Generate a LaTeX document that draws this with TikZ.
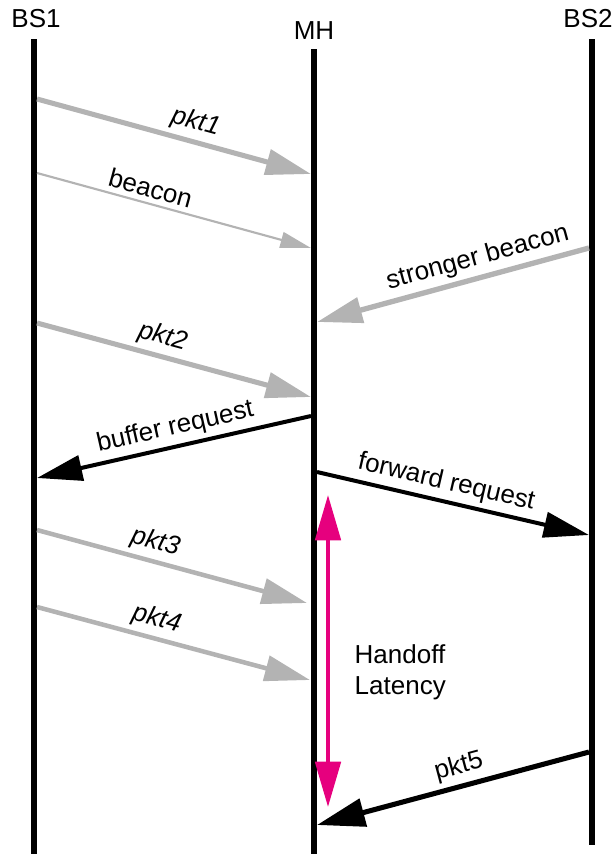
\documentclass[tikz,border=0pt]{standalone}
\usepackage{fontspec}
\setmainfont{Liberation Sans}
\usetikzlibrary{arrows.meta}
\definecolor{pktgray}{RGB}{179,179,179}
\definecolor{latency}{RGB}{230,0,126}

\begin{document}
\begin{tikzpicture}[x=0.75pt, y=-0.75pt, font=\fontsize{19.5}{23.5}\selectfont,
  life/.style = {line width=4.8pt},
  pkt/.style = {draw=pktgray, line width=3.8pt, -{Triangle[length=34pt, width=19pt]}},
  weak/.style = {draw=pktgray, line width=1.6pt, -{Triangle[length=23pt, width=12pt]}},
  ctrl/.style = {draw=black, line width=3pt, -{Triangle[length=34pt, width=19pt]}},
  lbl/.style = {sloped, above, inner sep=3.5pt, text=black}]
\useasboundingbox (0,0) rectangle (614,854);

\node (bs1) at (36,19) {BS1};
\node (mh) at (314,31) {MH};
\node (bs2) at (588,19) {BS2};

\coordinate (bs1top) at (34,39);  \coordinate (bs1end) at (34,854);
\coordinate (mhtop) at (314,49);  \coordinate (mhend) at (314,854);
\coordinate (bs2top) at (592,39); \coordinate (bs2end) at (592,845);

\draw[life] (bs1top) -- (bs1end);
\draw[life] (mhtop) -- (mhend);
\draw[life] (bs2top) -- (bs2end);

\coordinate (1) at (37,99);   \coordinate (2) at (311,174);
\coordinate (3) at (37,173);  \coordinate (4) at (311,248);
\coordinate (5) at (589,248); \coordinate (6) at (317,322);
\coordinate (7) at (37,323);  \coordinate (8) at (311,397);
\coordinate (9) at (311,416); \coordinate (10) at (37,478);
\coordinate (11) at (317,472); \coordinate (12) at (589,535);
\coordinate (13) at (37,530); \coordinate (14) at (307,603);
\coordinate (15) at (37,607); \coordinate (16) at (310,680);
\coordinate (17) at (589,752); \coordinate (18) at (317,825);
\coordinate (19) at (328,495); \coordinate (20) at (328,807);

\draw[pkt] (1) -- node[lbl, pos=0.56] {\itshape pkt1} (2);
\draw[weak] (3) -- node[lbl, pos=0.4] {beacon} (4);
\draw[pkt, line width=4pt] (5) -- node[lbl, pos=0.39] {stronger beacon} (6);
\draw[pkt] (7) -- node[lbl, pos=0.44] {\itshape pkt2} (8);
\draw[ctrl] (9) -- node[lbl, pos=0.48] {buffer request} (10);
\draw[ctrl] (11) -- node[lbl, pos=0.46] {forward request} (12);
\draw[pkt, line width=3.4pt] (13) -- node[lbl, pos=0.42] {\itshape pkt3} (14);
\draw[pkt, line width=3.4pt] (15) -- node[lbl, pos=0.42] {\itshape pkt4} (16);
\draw[ctrl, line width=3.8pt, -{Triangle[length=36pt, width=21pt]}] (17) -- node[lbl, pos=0.46] {pkt5} (18);

\draw[draw=latency, line width=3pt, {Triangle[length=34pt, width=19pt]}-{Triangle[length=34pt, width=19pt]}] (19) -- (20);
\node (handoff) [anchor=west, align=left] at (350,672) {Handoff\\Latency};

\end{tikzpicture}
\end{document}
